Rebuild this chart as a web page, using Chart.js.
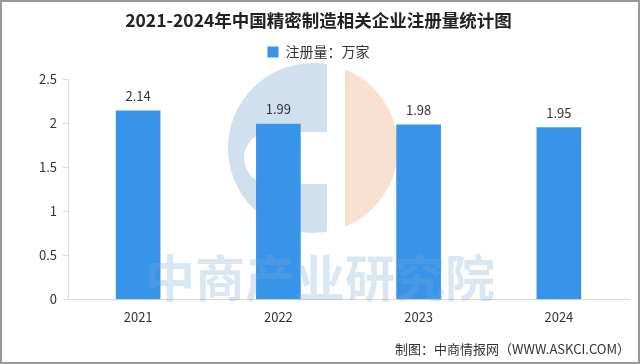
<!DOCTYPE html>
<html>
<head>
<meta charset="utf-8">
<script src="https://cdn.jsdelivr.net/npm/chart.js@4/dist/chart.umd.min.js"></script>
<style>
  html, body { margin: 0; padding: 0; background: #fff; }
  #wrap { width: 640px; height: 364px; }
</style>
</head>
<body>
<div id="wrap"><canvas id="chart" width="640" height="364"></canvas></div>
<script>
// data
const years = ["2021", "2022", "2023", "2024"];
const registrations = [2.14, 1.99, 1.98, 1.95];
const yTicks = [0, 0.5, 1, 1.5, 2, 2.5];

const titleText = "2021-2024年中国精密制造相关企业注册量统计图";
const seriesName = "注册量：万家";
const sourceText = "制图：中商情报网（WWW.ASKCI.COM）";
const watermarkText = "中商产业研究院";

const cjk = '"Noto Sans CJK SC", "Noto Sans", sans-serif';
const barColor = "#3894E8";

// leave some room under the legend
const legendGap = {
    id: "legendGap",
    afterInit(chart) {
        const fit = chart.legend.fit;
        chart.legend.fit = function () {
            fit.call(this);
            this.height += 10;
        };
    }
};

// faint logo behind the bars
const logoPlugin = {
    id: "logo",
    beforeDatasetsDraw(chart) {
        const ctx = chart.ctx;
        const cx = 313, cy = 148, r = 85;
        ctx.save();
        // blue left part
        ctx.beginPath();
        ctx.rect(0, 0, 327, 364);
        ctx.clip();
        ctx.fillStyle = "rgba(200,218,235,0.85)";
        ctx.beginPath();
        ctx.arc(cx, cy, r, 0, Math.PI * 2);
        ctx.fill();
        // mouth of the C
        ctx.fillStyle = "#fff";
        ctx.beginPath();
        ctx.moveTo(327, 132);
        ctx.lineTo(270, 132);
        ctx.arc(270, 158, 26, -Math.PI / 2, Math.PI / 2, true);
        ctx.lineTo(327, 184);
        ctx.closePath();
        ctx.fill();
        ctx.restore();
        // orange right part
        ctx.save();
        ctx.beginPath();
        ctx.rect(345, 0, 300, 364);
        ctx.clip();
        ctx.fillStyle = "rgba(248,216,196,0.8)";
        ctx.beginPath();
        ctx.arc(cx, cy, r, 0, Math.PI * 2);
        ctx.fill();
        ctx.restore();
    }
};

// value labels, watermark, source and frame
const overlayPlugin = {
    id: "overlay",
    afterDatasetsDraw(chart) {
        const ctx = chart.ctx;
        const meta = chart.getDatasetMeta(0);
        ctx.save();
        ctx.fillStyle = "#333";
        ctx.font = "13px " + cjk;
        ctx.textAlign = "center";
        ctx.textBaseline = "bottom";
        meta.data.forEach((bar, i) => {
            ctx.fillText(registrations[i].toFixed(2), bar.x, bar.y - 8);
        });

        ctx.fillStyle = "rgba(120,170,220,0.28)";
        ctx.font = "bold 50px " + cjk;
        ctx.textBaseline = "middle";
        ctx.fillText(watermarkText, 320, 278);

        ctx.fillStyle = "#333";
        ctx.font = "13px " + cjk;
        ctx.textAlign = "right";
        ctx.fillText(sourceText, 630, 349);

        ctx.strokeStyle = "#9a9a9a";
        ctx.lineWidth = 2;
        ctx.strokeRect(1, 1, 638, 362);
        ctx.restore();
    }
};

new Chart(document.getElementById("chart"), {
    type: "bar",
    data: {
        labels: years,
        datasets: [{
            label: seriesName,
            data: registrations,
            backgroundColor: barColor,
            barThickness: 44
        }]
    },
    options: {
        responsive: false,
        animation: false,
        layout: { padding: { left: 8, right: 11, top: 0, bottom: 37 } },
        plugins: {
            title: {
                display: true,
                text: titleText,
                color: "#222",
                font: { family: cjk, size: 17.5, weight: "bold" },
                padding: { top: 10, bottom: 6 }
            },
            legend: {
                display: true,
                labels: {
                    color: "#333",
                    font: { family: cjk, size: 14 },
                    boxWidth: 11,
                    boxHeight: 11,
                    padding: 8
                }
            },
            tooltip: { enabled: false }
        },
        scales: {
            x: {
                grid: { display: false },
                border: { color: "#d9d9d9" },
                ticks: { color: "#333", font: { family: cjk, size: 13 }, padding: 2 }
            },
            y: {
                min: 0,
                max: 2.5,
                afterBuildTicks(scale) {
                    scale.ticks = yTicks.map(v => ({ value: v }));
                },
                afterFit(scale) { scale.width = 60; },
                grid: { drawOnChartArea: false, tickLength: 5, color: "#d9d9d9" },
                border: { color: "#d9d9d9" },
                ticks: {
                    color: "#333",
                    font: { family: cjk, size: 13 },
                    padding: 6,
                    callback: v => String(v)
                }
            }
        }
    },
    plugins: [legendGap, logoPlugin, overlayPlugin]
});
</script>
</body>
</html>
